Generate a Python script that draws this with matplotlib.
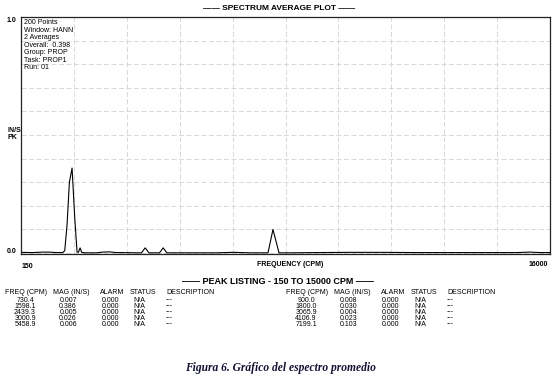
import numpy as np
import matplotlib.pyplot as plt

plt.rcParams['font.family'] = ['Liberation Sans', 'DejaVu Sans']

# spectrum trace (CPM, IN/S PK)
freq = [150, 500, 800, 1000, 1200, 1400, 1460, 1530, 1600, 1680, 1760, 1830, 1870,
        1920, 1970, 2050, 2400, 2600, 2800, 3000, 3200, 3600, 3760, 3870, 3980,
        4300, 4410, 4520, 5000, 6000, 6500, 7000, 7550, 7700, 7880, 8200,
        9000, 10000, 11000, 12000, 13000, 14000, 15000, 15400, 15700, 16000]
mag = [0.003, 0.002, 0.004, 0.004, 0.002, 0.002, 0.01, 0.12, 0.30, 0.36, 0.15, 0.004, 0.003,
       0.022, 0.003, 0.001, 0.001, 0.004, 0.005, 0.002, 0.002, 0.001, 0.001, 0.022, 0.001,
       0.001, 0.022, 0.001, 0.001, 0.001, 0.003, 0.001, 0.001, 0.10, 0.001, 0.001,
       0.002, 0.003, 0.003, 0.002, 0.002, 0.002, 0.002, 0.004, 0.002, 0.002]

info = ["200 Points", "Window: HANN", "2 Averages", "Overall:  0.398",
        "Group: PROP", "Task: PROP1", "Run: 01"]

headers = ["FREQ (CPM)", "MAG (IN/S)", "ALARM", "STATUS", "DESCRIPTION"]
left_freq = ["730.4", "1598.1", "2439.3", "3000.9", "5458.9"]
left_mag = ["0.007", "0.386", "0.005", "0.026", "0.006"]
right_freq = ["900.0", "1800.0", "3065.9", "4106.9", "7199.1"]
right_mag = ["0.008", "0.030", "0.004", "0.023", "0.103"]

W, H = 558, 383
fig = plt.figure(figsize=(W / 100, H / 100), dpi=100)
ax = fig.add_axes([21 / W, 1 - 254 / H, 529 / W, 237 / H])

ax.plot(freq, mag, color='black', lw=0.8)
ax.set_xlim(150, 16000)
ax.set_ylim(-0.004, 1.0)
ax.set_xticks(np.linspace(150, 16000, 11))
ax.set_yticks(np.linspace(0, 1.0, 11))
ax.tick_params(length=0, labelbottom=False, labelleft=False)
ax.grid(True, color='#d2d2d2', ls=(0, (6, 3)), lw=0.6)
for s in ax.spines.values():
    s.set_color('#222222')
    s.set_linewidth(0.9)

ax.text(0.006, 0.99, "\n".join(info), transform=ax.transAxes, fontsize=5,
        va='top', ha='left', linespacing=1.1)

def px(x, y, s, **kw):
    fig.text(x / W, 1 - y / H, s, **kw)

px(279, 8, "—— SPECTRUM AVERAGE PLOT ——", fontsize=6, weight='bold', ha='center', va='center')
px(7, 20, "1.0", fontsize=5, weight='bold', va='center')
px(7, 134, "IN/S\nPK", fontsize=5, weight='bold', va='center', linespacing=1.0)
px(7, 252, "0.0", fontsize=5, weight='bold', va='center')
px(22, 266, "150", fontsize=5, weight='bold', va='center')
px(290, 265, "FREQUENCY (CPM)", fontsize=5, weight='bold', va='center', ha='center')
px(548, 265, "16000", fontsize=5, weight='bold', va='center', ha='right')
px(278, 281, "—— PEAK LISTING - 150 TO 15000 CPM ——", fontsize=6.5, weight='bold',
   ha='center', va='center')

# peak listing tables
for x0, freqs, mags in [(5, left_freq, left_mag), (286, right_freq, right_mag)]:
    hx = [x0, x0 + 48, x0 + 95, x0 + 125, x0 + 161]
    for h, x in zip(headers, hx):
        px(x, 293, h, fontsize=5, va='center')
    for i in range(len(freqs)):
        y = 300 + i * 6
        px(x0 + 20, y, freqs[i], fontsize=5, va='center', ha='center')
        px(x0 + 63, y, mags[i], fontsize=5, va='center', ha='center')
        px(x0 + 105, y, "0.000", fontsize=5, va='center', ha='center')
        px(x0 + 134, y, "N/A", fontsize=5, va='center', ha='center')
        px(x0 + 161, y, "---", fontsize=5, va='center')

px(280, 368, "Figura 6. Gráfico del espectro promedio", fontsize=8.3, ha='center',
   va='center', family=['Liberation Serif', 'DejaVu Serif'], style='italic', weight='bold',
   color='#111133')

fig.savefig("out.png", dpi=100)
